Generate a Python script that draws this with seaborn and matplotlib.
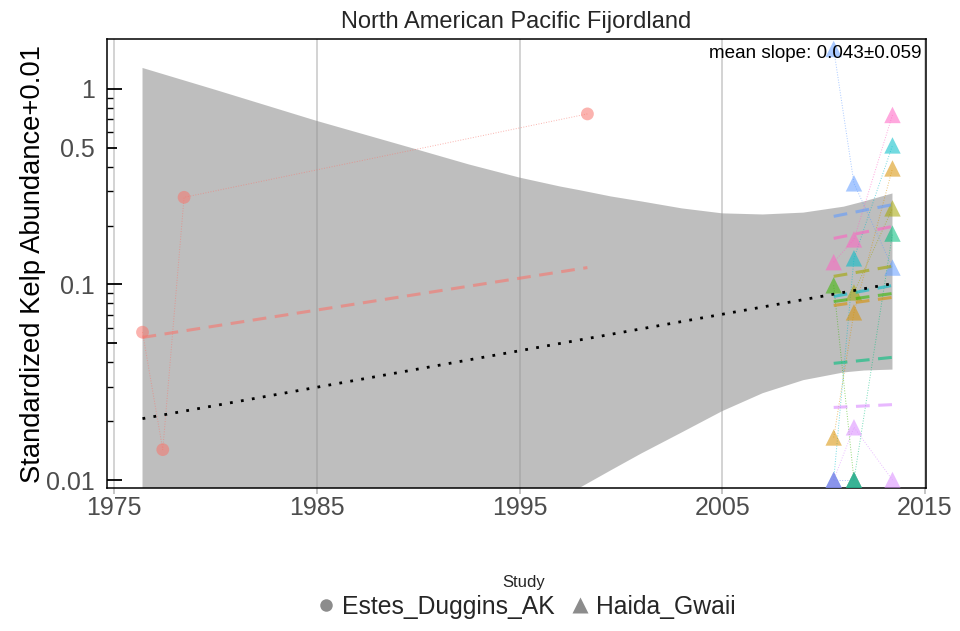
import numpy as np
import pandas as pd
import matplotlib
matplotlib.use("Agg")
import matplotlib.pyplot as plt
from matplotlib.lines import Line2D
from matplotlib.ticker import NullFormatter
import seaborn as sns

# ============== DATA ==============
# observed points (value = standardized kelp abundance + 0.01)
site_name = ["Estes", "Estes", "Estes", "Estes",
             "gold", "gold", "gold",
             "olive", "olive",
             "cyan", "cyan", "cyan",
             "lavender", "lavender", "lavender",
             "green", "green",
             "periwinkle", "periwinkle",
             "emerald", "emerald",
             "lightblue", "lightblue", "lightblue",
             "pink", "pink", "pink"]
site_study = ["Estes_Duggins_AK"] * 4 + ["Haida_Gwaii"] * 23
site_year = [1976.4, 1977.4, 1978.45, 1998.35,
             2010.5, 2011.5, 2013.4,
             2011.5, 2013.4,
             2010.5, 2011.5, 2013.4,
             2010.5, 2011.5, 2013.4,
             2010.5, 2011.5,
             2010.5, 2011.5,
             2011.5, 2013.4,
             2010.5, 2011.5, 2013.4,
             2010.5, 2011.5, 2013.4]
site_value = [0.057, 0.0143, 0.279, 0.745,
              0.0165, 0.072, 0.392,
              0.091, 0.245,
              0.010, 0.136, 0.514,
              0.010, 0.0186, 0.010,
              0.099, 0.010,
              0.010, 0.010,
              0.010, 0.182,
              1.60, 0.329, 0.122,
              0.130, 0.170, 0.736]

# per-site fitted lines (start / end)
fit_site = ["Estes", "Estes", "lightblue", "lightblue", "pink", "pink",
            "olive", "olive", "cyan", "cyan", "green", "green",
            "gold", "gold", "emerald", "emerald", "lavender", "lavender"]
fit_year = [1976.4, 1998.35] + [2010.5, 2013.4] * 8
fit_value = [0.0536, 0.122, 0.223, 0.256, 0.172, 0.198,
             0.110, 0.124, 0.0868, 0.0989, 0.0818, 0.0899,
             0.0781, 0.0859, 0.0395, 0.0424, 0.0235, 0.0243]

# mean trend and its confidence band
mean_year = [1976.4, 2013.4]
mean_value = [0.0206, 0.101]
ribbon_year = [1976.4, 1980, 1985, 1990, 1992.5, 1995, 1997, 1998, 1999.5,
               2001, 2003, 2005, 2007, 2009, 2011, 2012, 2013.4]
ribbon_upper = [1.28, 0.989, 0.686, 0.488, 0.411, 0.352, 0.317, 0.303, 0.282,
                0.266, 0.245, 0.231, 0.228, 0.233, 0.250, 0.266, 0.292]
ribbon_lower = [0.00016, 0.00035, 0.0010, 0.0026, 0.0040, 0.0060, 0.00798, 0.00916, 0.0112,
                0.01365, 0.0175, 0.0225, 0.0278, 0.0324, 0.0355, 0.0363, 0.0367]

site_colors = {"Estes": "#F8766D", "gold": "#D89000", "olive": "#A3A500",
               "green": "#39B600", "emerald": "#00BF7D", "cyan": "#00BCC8",
               "lightblue": "#619CFF", "periwinkle": "#6F7FE8",
               "lavender": "#DA8AFF", "pink": "#FF61C3"}

df = pd.DataFrame({"site": site_name, "study": site_study,
                   "year": site_year, "value": site_value})
df_fit = pd.DataFrame({"site": fit_site, "year": fit_year, "value": fit_value})

# ============== PLOT ==============
sns.set_theme(style="white")
plt.rcParams["font.family"] = ["Liberation Sans", "DejaVu Sans"]

fig = plt.figure(figsize=(9.6, 6.31), dpi=100)
ax = fig.add_axes([0.1115, 0.2266, 0.853, 0.7116])

ax.set_yscale("log")
ax.grid(axis="x", color="#CCCCCC", lw=1.2)
ax.grid(axis="y", visible=False)
ax.set_axisbelow(True)

ax.fill_between(ribbon_year, ribbon_lower, ribbon_upper,
                color="#949494", alpha=0.6, lw=0, zorder=1)

# thin connecting lines
sns.lineplot(data=df, x="year", y="value", hue="site", palette=site_colors,
             estimator=None, sort=True, lw=0.7, linestyle=":", alpha=0.55,
             legend=False, ax=ax, zorder=2)

# points
est = df[df.study == "Estes_Duggins_AK"]
hg = df[df.study == "Haida_Gwaii"]
sns.scatterplot(data=est, x="year", y="value", hue="site", palette=site_colors,
                marker="o", s=85, alpha=0.55, edgecolor="none",
                legend=False, ax=ax, zorder=3)
sns.scatterplot(data=hg, x="year", y="value", hue="site", palette=site_colors,
                marker="^", s=140, alpha=0.55, edgecolor="none",
                legend=False, ax=ax, zorder=3)

# per-site fits
sns.lineplot(data=df_fit, x="year", y="value", hue="site", palette=site_colors,
             estimator=None, sort=True, lw=2.2, linestyle=(0, (4.5, 2.8)),
             alpha=0.6, legend=False, ax=ax, zorder=4)

# mean trend
sns.lineplot(x=mean_year, y=mean_value, color="black", lw=2,
             linestyle=(0, (1, 3)), ax=ax, zorder=5)

ax.set_xlim(1974.65, 2015.05)
ax.set_ylim(0.0091, 1.80)

# axes styling
ax.set_xticks([1975, 1985, 1995, 2005, 2015])
ax.set_yticks([0.01, 0.05, 0.1, 0.5, 1])
ax.set_yticklabels(["0.01", "", "0.1", "0.5", "1"])
ax.set_yticks([0.02, 0.03, 0.04, 0.06, 0.07, 0.08, 0.09,
               0.2, 0.3, 0.4, 0.6, 0.7, 0.8, 0.9], minor=True)
ax.yaxis.set_minor_formatter(NullFormatter())
ax.tick_params(axis="y", which="major", direction="in", length=11, width=1.3,
               color="black", labelsize=18, labelcolor="#4D4D4D", pad=9, left=True)
ax.tick_params(axis="y", which="minor", direction="in", length=4, width=1,
               color="black", left=True)
ax.tick_params(axis="x", which="major", direction="out", length=4, width=1.2,
               color="#BBBBBB", labelsize=18, labelcolor="#4D4D4D", pad=2, bottom=True)
for t, loc in zip(ax.yaxis.get_major_ticks(), [0.01, 0.05, 0.1, 0.5, 1]):
    if loc in (0.05, 0.5):
        t.tick1line.set_markersize(7.2)

for sp in ax.spines.values():
    sp.set_color("black")
    sp.set_linewidth(1.1)

ax.set_xlabel("")
ax.set_ylabel("Standardized Kelp Abundance+0.01", fontsize=19.7, color="black")
ax.yaxis.set_label_coords(-0.075, 0.5)
ax.set_title("North American Pacific Fijordland", fontsize=17, pad=8)
ax.text(0.994, 0.987, "mean slope: 0.043\u00b10.059", transform=ax.transAxes,
        ha="right", va="top", fontsize=13.6, color="black")

# legend for study shape
handles = [Line2D([], [], marker="o", color="none", markerfacecolor="#8C8C8C",
                  markeredgecolor="none", markersize=9),
           Line2D([], [], marker="^", color="none", markerfacecolor="#8C8C8C",
                  markeredgecolor="none", markersize=11)]
fig.text(0.545, 1 - 583 / 631, "Study", ha="center", va="center", fontsize=12)
fig.legend(handles, ["Estes_Duggins_AK", "Haida_Gwaii"],
           loc="center", bbox_to_anchor=(0.545, 1 - 607 / 631), ncol=2, frameon=False,
           fontsize=17.8, handletextpad=0.05, columnspacing=0.4, handlelength=1.2,
           borderpad=0, borderaxespad=0)

fig.savefig("out.png", dpi=100)
